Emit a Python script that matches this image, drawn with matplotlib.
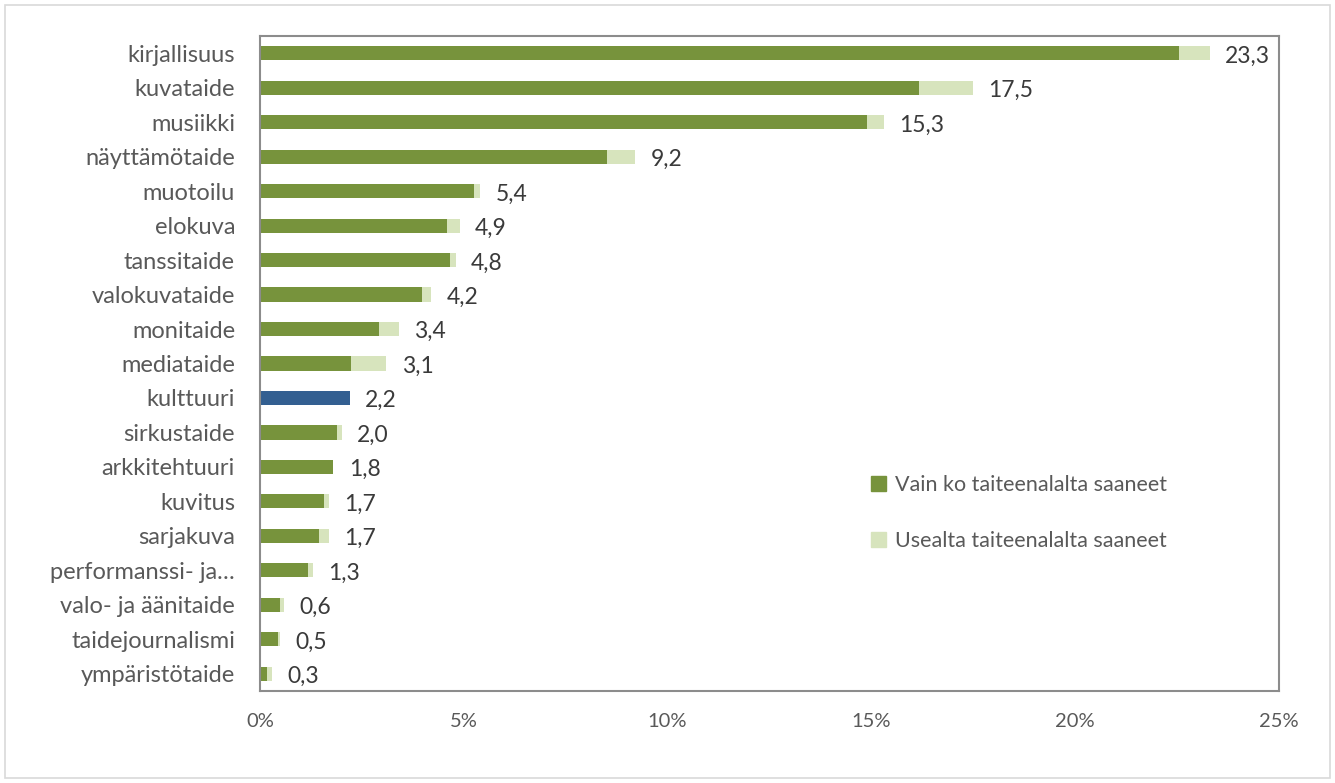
import numpy as np
import matplotlib
matplotlib.use('Agg')
import matplotlib.pyplot as plt
from matplotlib.patches import Rectangle, Patch

# --------------------
# data
# --------------------
categories = ['kirjallisuus', 'kuvataide', 'musiikki', 'näyttämötaide', 'muotoilu',
              'elokuva', 'tanssitaide', 'valokuvataide', 'monitaide', 'mediataide',
              'kulttuuri', 'sirkustaide', 'arkkitehtuuri', 'kuvitus', 'sarjakuva',
              'performanssi- ja…', 'valo- ja äänitaide', 'taidejournalismi',
              'ympäristötaide']

# share of grants from only this field (%)
vain = [22.55, 16.17, 14.89, 8.52, 5.24, 4.58, 4.67, 3.97, 2.92, 2.23,
        2.2, 1.88, 1.79, 1.57, 1.44, 1.18, 0.48, 0.43, 0.16]
# totals shown as labels (%)
totals = [23.3, 17.5, 15.3, 9.2, 5.4, 4.9, 4.8, 4.2, 3.4, 3.1,
          2.2, 2.0, 1.8, 1.7, 1.7, 1.3, 0.6, 0.5, 0.3]
highlight = 'kulttuuri'

legend_labels = ['Vain ko taiteenalalta saaneet', 'Usealta taiteenalalta saaneet']
xticks = [0, 5, 10, 15, 20, 25]

# --------------------
# styles
# --------------------
green = '#77933C'
light = '#D7E4BD'
blue = '#335F91'
text_grey = '#595959'
label_grey = '#3A3A3A'

plt.rcParams['font.family'] = ['Lato', 'DejaVu Sans']

vain = np.array(vain)
totals = np.array(totals)
usealta = np.clip(totals - vain, 0, None)
y = np.arange(len(categories))
colors = [blue if c == highlight else green for c in categories]

fig = plt.figure(figsize=(13.35, 7.83), dpi=100)
fig.patches.append(Rectangle((5 / 1335, 5 / 783), 1325 / 1335, 773 / 783,
                             transform=fig.transFigure, fill=False,
                             edgecolor='#D9D9D9', linewidth=1.2))

ax = fig.add_axes([260 / 1335, 1 - 691 / 783, 1019 / 1335, 655 / 783])

bar_h = 0.41
ax.barh(y, vain, height=bar_h, color=colors, zorder=2)
ax.barh(y, usealta, left=vain, height=bar_h, color=light, zorder=2)

for yi, t in zip(y, totals):
    ax.annotate(f'{t:.1f}'.replace('.', ','), xy=(t, yi), xytext=(11, -2),
                textcoords='offset points', va='center', ha='left',
                fontsize=16.5, color=label_grey)

ax.set_ylim(len(categories) - 0.5, -0.5)
ax.set_xlim(0, 25)
ax.set_yticks(y)
ax.set_yticklabels(categories, fontsize=17, color=text_grey)
ax.set_xticks(xticks)
ax.set_xticklabels([f'{v}%' for v in xticks], fontsize=14.5, color=text_grey)
ax.tick_params(axis='both', length=0)
ax.tick_params(axis='y', pad=18)
ax.tick_params(axis='x', pad=16)

for s in ax.spines.values():
    s.set_color('#8C8C8C')
    s.set_linewidth(1.5)

handles = [Patch(color=green), Patch(color=light)]
fig.legend(handles, legend_labels, loc='upper left',
           bbox_to_anchor=(852 / 1335, 1 - 456 / 783), frameon=False,
           fontsize=15.5, labelcolor=text_grey, handlelength=0.7,
           handleheight=0.7, handletextpad=0.4, labelspacing=1.65)

fig.savefig('out.png', dpi=100)
